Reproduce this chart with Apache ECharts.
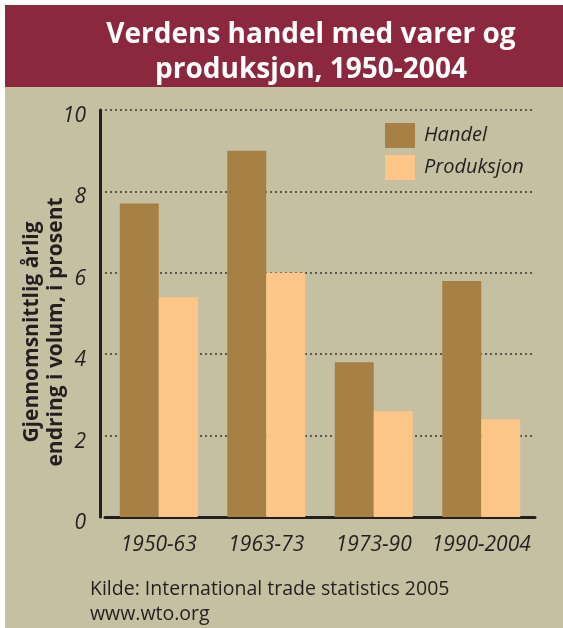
<!DOCTYPE html>
<html>
<head>
<meta charset="utf-8">
<script src="https://cdn.jsdelivr.net/npm/echarts@6/dist/echarts.min.js"></script>
<style>
html,body{margin:0;padding:0;background:#fff;}
#c{width:563px;height:628px;}
</style>
</head>
<body>
<div id="c"></div>
<script>
const titleLines = ['Verdens handel med varer og', 'produksjon, 1950-2004'];
const categories = ['1950-63', '1963-73', '1973-90', '1990-2004'];
const seriesNames = ['Handel', 'Produksjon'];
const handel = [7.7, 9.0, 3.8, 5.8];
const produksjon = [5.4, 6.0, 2.6, 2.4];
const yTicks = [0, 2, 4, 6, 8, 10];
const yAxisName = ['Gjennomsnittlig årlig', 'endring i volum, i prosent'];
const sourceLines = ['Kilde: International trade statistics 2005', 'www.wto.org'];

const FONT = '"Open Sans", "Noto Sans", sans-serif';
const TXT = '#231f20';

const chart = echarts.init(document.getElementById('c'), null, {renderer: 'canvas'});
chart.setOption({
  backgroundColor: '#ffffff',
  animation: false,
  graphic: [
    {type: 'rect', z: -10, shape: {x: 5, y: 87, width: 558, height: 541}, style: {fill: '#c5c0a2'}},
    {type: 'rect', z: -10, shape: {x: 5, y: 5, width: 558, height: 82}, style: {fill: '#8b283d'}},
    {type: 'text', x: 311, y: 53, style: {text: titleLines.join('\n'), fill: '#ffffff', font: 'bold 28px ' + FONT, textAlign: 'center', textVerticalAlign: 'middle', lineHeight: 35}},
    {type: 'text', x: 44, y: 332, rotation: Math.PI / 2, style: {text: yAxisName.join('\n'), fill: TXT, font: 'bold 21px ' + FONT, textAlign: 'center', textVerticalAlign: 'middle', lineHeight: 24}},
    {type: 'text', x: 90, y: 602, style: {text: sourceLines.join('\n'), fill: TXT, font: '19.5px ' + FONT, textAlign: 'left', textVerticalAlign: 'middle', lineHeight: 25}}
  ],
  legend: {
    data: seriesNames,
    orient: 'vertical',
    left: 380,
    top: 118,
    itemWidth: 30,
    itemHeight: 25,
    itemGap: 7,
    icon: 'rect',
    textStyle: {fontFamily: FONT, fontStyle: 'italic', fontSize: 20, color: TXT, padding: [0, 0, 0, 4]}
  },
  grid: {left: 105, right: 28, top: 110, bottom: 111},
  xAxis: {
    type: 'category',
    data: categories,
    axisLine: {lineStyle: {color: TXT, width: 3}},
    axisTick: {inside: true, length: 9, lineStyle: {color: TXT, width: 2}},
    axisLabel: {interval: 0, fontFamily: FONT, fontStyle: 'italic', fontSize: 21, color: TXT, margin: 18}
  },
  yAxis: {
    type: 'value',
    min: yTicks[0],
    max: yTicks[yTicks.length - 1],
    interval: 2,
    offset: 5,
    axisLine: {show: true, lineStyle: {color: TXT, width: 3}},
    axisTick: {show: false},
    axisLabel: {fontFamily: FONT, fontStyle: 'italic', fontSize: 21, color: TXT, margin: 14, verticalAlign: 'top', lineHeight: 12},
    splitLine: {lineStyle: {color: '#3a3630', width: 1.5, type: [2, 3]}}
  },
  series: [
    {name: seriesNames[0], type: 'bar', data: handel, barWidth: 39, barGap: '0%', itemStyle: {color: '#a68045'}},
    {name: seriesNames[1], type: 'bar', data: produksjon, barWidth: 39, barGap: '0%', itemStyle: {color: '#fbc688'}}
  ]
});
</script>
</body>
</html>
